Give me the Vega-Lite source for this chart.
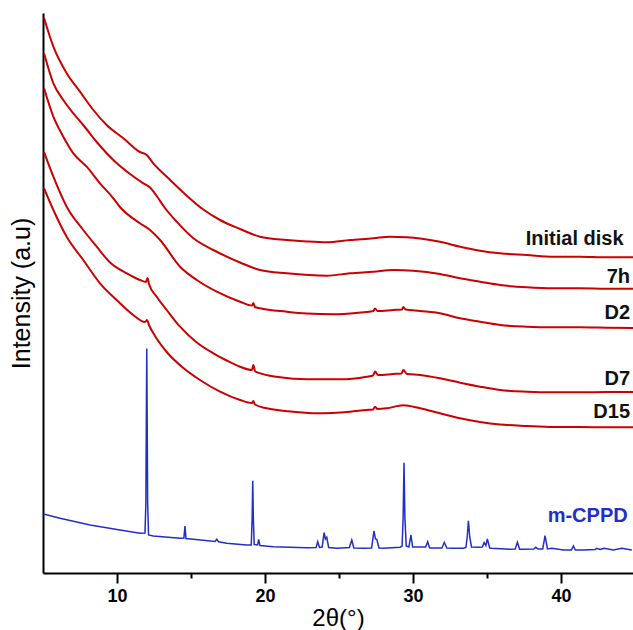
{
  "$schema": "https://vega.github.io/schema/vega-lite/v6.json",
  "autosize": {"type": "none"},
  "padding": {"left": 43, "top": 13, "right": 0, "bottom": 57},
  "width": 590,
  "height": 560,
  "config": {
    "view": {"stroke": null},
    "font": "Liberation Sans"
  },
  "datasets": {
    "curves": [
      {"sample": "Initial disk", "two_theta": 5.07, "intensity": 555},
      {"sample": "Initial disk", "two_theta": 5.70, "intensity": 526.3},
      {"sample": "Initial disk", "two_theta": 6.60, "intensity": 499.7},
      {"sample": "Initial disk", "two_theta": 7.50, "intensity": 481.3},
      {"sample": "Initial disk", "two_theta": 8.40, "intensity": 463},
      {"sample": "Initial disk", "two_theta": 9.30, "intensity": 448},
      {"sample": "Initial disk", "two_theta": 10.43, "intensity": 434.7},
      {"sample": "Initial disk", "two_theta": 11.55, "intensity": 421},
      {"sample": "Initial disk", "two_theta": 12.01, "intensity": 418},
      {"sample": "Initial disk", "two_theta": 12.45, "intensity": 409.7},
      {"sample": "Initial disk", "two_theta": 13.36, "intensity": 396.3},
      {"sample": "Initial disk", "two_theta": 14.48, "intensity": 380.5},
      {"sample": "Initial disk", "two_theta": 15.83, "intensity": 363.5},
      {"sample": "Initial disk", "two_theta": 16.96, "intensity": 353},
      {"sample": "Initial disk", "two_theta": 18.31, "intensity": 344},
      {"sample": "Initial disk", "two_theta": 19.66, "intensity": 336.3},
      {"sample": "Initial disk", "two_theta": 21.47, "intensity": 333},
      {"sample": "Initial disk", "two_theta": 22.82, "intensity": 331.5},
      {"sample": "Initial disk", "two_theta": 24.17, "intensity": 330.7},
      {"sample": "Initial disk", "two_theta": 25.74, "intensity": 333},
      {"sample": "Initial disk", "two_theta": 27.32, "intensity": 334.7},
      {"sample": "Initial disk", "two_theta": 28.45, "intensity": 336.3},
      {"sample": "Initial disk", "two_theta": 29.57, "intensity": 335.7},
      {"sample": "Initial disk", "two_theta": 30.47, "intensity": 334.5},
      {"sample": "Initial disk", "two_theta": 31.82, "intensity": 331.3},
      {"sample": "Initial disk", "two_theta": 33.18, "intensity": 326.3},
      {"sample": "Initial disk", "two_theta": 34.53, "intensity": 322.3},
      {"sample": "Initial disk", "two_theta": 35.88, "intensity": 319.7},
      {"sample": "Initial disk", "two_theta": 37.68, "intensity": 318},
      {"sample": "Initial disk", "two_theta": 39.48, "intensity": 316.3},
      {"sample": "Initial disk", "two_theta": 41.28, "intensity": 316.3},
      {"sample": "Initial disk", "two_theta": 43.09, "intensity": 315.7},
      {"sample": "Initial disk", "two_theta": 44.86, "intensity": 315.7},

      {"sample": "7h", "two_theta": 5.07, "intensity": 519.7},
      {"sample": "7h", "two_theta": 5.70, "intensity": 489.7},
      {"sample": "7h", "two_theta": 6.37, "intensity": 473},
      {"sample": "7h", "two_theta": 7.05, "intensity": 459.7},
      {"sample": "7h", "two_theta": 7.72, "intensity": 448},
      {"sample": "7h", "two_theta": 8.63, "intensity": 431},
      {"sample": "7h", "two_theta": 9.75, "intensity": 413},
      {"sample": "7h", "two_theta": 10.88, "intensity": 399},
      {"sample": "7h", "two_theta": 11.78, "intensity": 389.7},
      {"sample": "7h", "two_theta": 12.23, "intensity": 385.5},
      {"sample": "7h", "two_theta": 12.68, "intensity": 377},
      {"sample": "7h", "two_theta": 13.24, "intensity": 365},
      {"sample": "7h", "two_theta": 14.03, "intensity": 351.3},
      {"sample": "7h", "two_theta": 15.16, "intensity": 334.7},
      {"sample": "7h", "two_theta": 16.51, "intensity": 323},
      {"sample": "7h", "two_theta": 18.31, "intensity": 310.5},
      {"sample": "7h", "two_theta": 19.66, "intensity": 303},
      {"sample": "7h", "two_theta": 21.47, "intensity": 299.7},
      {"sample": "7h", "two_theta": 24.17, "intensity": 297.3},
      {"sample": "7h", "two_theta": 25.74, "intensity": 299.7},
      {"sample": "7h", "two_theta": 27.32, "intensity": 301.3},
      {"sample": "7h", "two_theta": 28.67, "intensity": 303},
      {"sample": "7h", "two_theta": 30.02, "intensity": 302.3},
      {"sample": "7h", "two_theta": 31.82, "intensity": 299},
      {"sample": "7h", "two_theta": 33.18, "intensity": 294.7},
      {"sample": "7h", "two_theta": 34.53, "intensity": 291.3},
      {"sample": "7h", "two_theta": 35.88, "intensity": 288},
      {"sample": "7h", "two_theta": 37.68, "intensity": 285.7},
      {"sample": "7h", "two_theta": 39.48, "intensity": 284.7},
      {"sample": "7h", "two_theta": 41.28, "intensity": 284.7},
      {"sample": "7h", "two_theta": 43.09, "intensity": 284.3},
      {"sample": "7h", "two_theta": 44.86, "intensity": 284.3},

      {"sample": "D2", "two_theta": 5.07, "intensity": 484.7},
      {"sample": "D2", "two_theta": 5.70, "intensity": 456.3},
      {"sample": "D2", "two_theta": 6.37, "intensity": 436.3},
      {"sample": "D2", "two_theta": 7.05, "intensity": 419.7},
      {"sample": "D2", "two_theta": 7.95, "intensity": 406.3},
      {"sample": "D2", "two_theta": 8.85, "intensity": 389.7},
      {"sample": "D2", "two_theta": 9.75, "intensity": 374.7},
      {"sample": "D2", "two_theta": 10.20, "intensity": 366},
      {"sample": "D2", "two_theta": 11.55, "intensity": 349.7},
      {"sample": "D2", "two_theta": 12.23, "intensity": 343},
      {"sample": "D2", "two_theta": 12.91, "intensity": 333},
      {"sample": "D2", "two_theta": 14.26, "intensity": 306.3},
      {"sample": "D2", "two_theta": 15.39, "intensity": 293},
      {"sample": "D2", "two_theta": 16.74, "intensity": 281.3},
      {"sample": "D2", "two_theta": 18.31, "intensity": 271.3},
      {"sample": "D2", "two_theta": 19.12, "intensity": 267.5},
      {"sample": "D2", "two_theta": 19.21, "intensity": 270},
      {"sample": "D2", "two_theta": 19.32, "intensity": 266},
      {"sample": "D2", "two_theta": 19.66, "intensity": 264.7},
      {"sample": "D2", "two_theta": 21.47, "intensity": 261.3},
      {"sample": "D2", "two_theta": 22.82, "intensity": 259.5},
      {"sample": "D2", "two_theta": 24.61, "intensity": 258.7},
      {"sample": "D2", "two_theta": 26.42, "intensity": 260.5},
      {"sample": "D2", "two_theta": 27.32, "intensity": 262},
      {"sample": "D2", "two_theta": 27.43, "intensity": 264.5},
      {"sample": "D2", "two_theta": 27.60, "intensity": 262},
      {"sample": "D2", "two_theta": 28.67, "intensity": 263},
      {"sample": "D2", "two_theta": 29.25, "intensity": 263.5},
      {"sample": "D2", "two_theta": 29.34, "intensity": 266},
      {"sample": "D2", "two_theta": 29.50, "intensity": 263.5},
      {"sample": "D2", "two_theta": 30.47, "intensity": 262},
      {"sample": "D2", "two_theta": 31.82, "intensity": 259.7},
      {"sample": "D2", "two_theta": 33.18, "intensity": 254.7},
      {"sample": "D2", "two_theta": 34.53, "intensity": 251.3},
      {"sample": "D2", "two_theta": 35.88, "intensity": 248},
      {"sample": "D2", "two_theta": 37.68, "intensity": 246.3},
      {"sample": "D2", "two_theta": 39.48, "intensity": 245.7},
      {"sample": "D2", "two_theta": 41.28, "intensity": 245.7},
      {"sample": "D2", "two_theta": 43.09, "intensity": 245.3},
      {"sample": "D2", "two_theta": 44.86, "intensity": 245},

      {"sample": "D7", "two_theta": 5.07, "intensity": 421},
      {"sample": "D7", "two_theta": 5.70, "intensity": 396.3},
      {"sample": "D7", "two_theta": 6.60, "intensity": 366.3},
      {"sample": "D7", "two_theta": 7.72, "intensity": 343},
      {"sample": "D7", "two_theta": 8.63, "intensity": 326.3},
      {"sample": "D7", "two_theta": 9.53, "intensity": 310.5},
      {"sample": "D7", "two_theta": 10.66, "intensity": 299.7},
      {"sample": "D7", "two_theta": 11.55, "intensity": 293},
      {"sample": "D7", "two_theta": 11.96, "intensity": 291},
      {"sample": "D7", "two_theta": 12.06, "intensity": 295},
      {"sample": "D7", "two_theta": 12.16, "intensity": 289},
      {"sample": "D7", "two_theta": 12.68, "intensity": 276.3},
      {"sample": "D7", "two_theta": 13.36, "intensity": 263},
      {"sample": "D7", "two_theta": 14.26, "intensity": 246.3},
      {"sample": "D7", "two_theta": 15.39, "intensity": 230.5},
      {"sample": "D7", "two_theta": 16.51, "intensity": 219.7},
      {"sample": "D7", "two_theta": 17.41, "intensity": 212.5},
      {"sample": "D7", "two_theta": 18.31, "intensity": 206.3},
      {"sample": "D7", "two_theta": 19.12, "intensity": 203},
      {"sample": "D7", "two_theta": 19.21, "intensity": 208},
      {"sample": "D7", "two_theta": 19.32, "intensity": 202},
      {"sample": "D7", "two_theta": 19.44, "intensity": 200.8},
      {"sample": "D7", "two_theta": 21.01, "intensity": 195.7},
      {"sample": "D7", "two_theta": 22.82, "intensity": 193.7},
      {"sample": "D7", "two_theta": 25.07, "intensity": 193.7},
      {"sample": "D7", "two_theta": 26.87, "intensity": 196.3},
      {"sample": "D7", "two_theta": 27.30, "intensity": 197.5},
      {"sample": "D7", "two_theta": 27.43, "intensity": 201.5},
      {"sample": "D7", "two_theta": 27.64, "intensity": 198},
      {"sample": "D7", "two_theta": 28.67, "intensity": 199},
      {"sample": "D7", "two_theta": 29.22, "intensity": 199.5},
      {"sample": "D7", "two_theta": 29.34, "intensity": 203},
      {"sample": "D7", "two_theta": 29.59, "intensity": 199},
      {"sample": "D7", "two_theta": 30.47, "intensity": 198},
      {"sample": "D7", "two_theta": 31.82, "intensity": 194.7},
      {"sample": "D7", "two_theta": 33.18, "intensity": 190.3},
      {"sample": "D7", "two_theta": 34.53, "intensity": 186.3},
      {"sample": "D7", "two_theta": 35.88, "intensity": 183},
      {"sample": "D7", "two_theta": 37.68, "intensity": 181.3},
      {"sample": "D7", "two_theta": 39.48, "intensity": 180.7},
      {"sample": "D7", "two_theta": 41.28, "intensity": 180.7},
      {"sample": "D7", "two_theta": 43.09, "intensity": 181},
      {"sample": "D7", "two_theta": 44.86, "intensity": 181},

      {"sample": "D15", "two_theta": 5.07, "intensity": 384.7},
      {"sample": "D15", "two_theta": 5.70, "intensity": 363},
      {"sample": "D15", "two_theta": 6.60, "intensity": 336.3},
      {"sample": "D15", "two_theta": 7.72, "intensity": 313},
      {"sample": "D15", "two_theta": 8.85, "intensity": 289.7},
      {"sample": "D15", "two_theta": 9.98, "intensity": 273},
      {"sample": "D15", "two_theta": 11.10, "intensity": 258},
      {"sample": "D15", "two_theta": 11.89, "intensity": 251},
      {"sample": "D15", "two_theta": 12.03, "intensity": 253},
      {"sample": "D15", "two_theta": 12.16, "intensity": 248},
      {"sample": "D15", "two_theta": 12.57, "intensity": 237},
      {"sample": "D15", "two_theta": 13.36, "intensity": 221},
      {"sample": "D15", "two_theta": 14.48, "intensity": 205},
      {"sample": "D15", "two_theta": 15.61, "intensity": 193},
      {"sample": "D15", "two_theta": 16.96, "intensity": 181.3},
      {"sample": "D15", "two_theta": 18.31, "intensity": 173},
      {"sample": "D15", "two_theta": 19.12, "intensity": 170},
      {"sample": "D15", "two_theta": 19.21, "intensity": 172},
      {"sample": "D15", "two_theta": 19.32, "intensity": 168.5},
      {"sample": "D15", "two_theta": 20.11, "intensity": 164.7},
      {"sample": "D15", "two_theta": 21.91, "intensity": 161.3},
      {"sample": "D15", "two_theta": 23.49, "intensity": 159.7},
      {"sample": "D15", "two_theta": 25.74, "intensity": 161.3},
      {"sample": "D15", "two_theta": 26.87, "intensity": 163},
      {"sample": "D15", "two_theta": 27.30, "intensity": 163.5},
      {"sample": "D15", "two_theta": 27.43, "intensity": 166.3},
      {"sample": "D15", "two_theta": 27.60, "intensity": 164},
      {"sample": "D15", "two_theta": 28.22, "intensity": 164.7},
      {"sample": "D15", "two_theta": 29.34, "intensity": 167.7},
      {"sample": "D15", "two_theta": 30.47, "intensity": 164.7},
      {"sample": "D15", "two_theta": 31.82, "intensity": 159.7},
      {"sample": "D15", "two_theta": 33.18, "intensity": 154.7},
      {"sample": "D15", "two_theta": 34.53, "intensity": 151},
      {"sample": "D15", "two_theta": 35.88, "intensity": 148.5},
      {"sample": "D15", "two_theta": 37.68, "intensity": 147},
      {"sample": "D15", "two_theta": 39.48, "intensity": 146},
      {"sample": "D15", "two_theta": 41.28, "intensity": 146},
      {"sample": "D15", "two_theta": 43.09, "intensity": 145.7},
      {"sample": "D15", "two_theta": 44.86, "intensity": 145.7},

      {"sample": "m-CPPD", "two_theta": 5.03, "intensity": 59},
      {"sample": "m-CPPD", "two_theta": 6.15, "intensity": 54.7},
      {"sample": "m-CPPD", "two_theta": 8.18, "intensity": 48},
      {"sample": "m-CPPD", "two_theta": 10.20, "intensity": 43},
      {"sample": "m-CPPD", "two_theta": 11.55, "intensity": 39.7},
      {"sample": "m-CPPD", "two_theta": 11.89, "intensity": 40},
      {"sample": "m-CPPD", "two_theta": 11.95, "intensity": 70},
      {"sample": "m-CPPD", "two_theta": 11.98, "intensity": 150},
      {"sample": "m-CPPD", "two_theta": 12.01, "intensity": 224.5},
      {"sample": "m-CPPD", "two_theta": 12.04, "intensity": 150},
      {"sample": "m-CPPD", "two_theta": 12.07, "intensity": 70},
      {"sample": "m-CPPD", "two_theta": 12.13, "intensity": 38},
      {"sample": "m-CPPD", "two_theta": 12.45, "intensity": 37},
      {"sample": "m-CPPD", "two_theta": 14.26, "intensity": 34.7},
      {"sample": "m-CPPD", "two_theta": 14.52, "intensity": 35},
      {"sample": "m-CPPD", "two_theta": 14.59, "intensity": 47},
      {"sample": "m-CPPD", "two_theta": 14.66, "intensity": 34.5},
      {"sample": "m-CPPD", "two_theta": 15.16, "intensity": 33.7},
      {"sample": "m-CPPD", "two_theta": 16.62, "intensity": 31.5},
      {"sample": "m-CPPD", "two_theta": 16.74, "intensity": 33.7},
      {"sample": "m-CPPD", "two_theta": 16.86, "intensity": 31.2},
      {"sample": "m-CPPD", "two_theta": 17.41, "intensity": 29.7},
      {"sample": "m-CPPD", "two_theta": 18.76, "intensity": 28},
      {"sample": "m-CPPD", "two_theta": 19.07, "intensity": 28},
      {"sample": "m-CPPD", "two_theta": 19.13, "intensity": 55},
      {"sample": "m-CPPD", "two_theta": 19.17, "intensity": 92.3},
      {"sample": "m-CPPD", "two_theta": 19.21, "intensity": 55},
      {"sample": "m-CPPD", "two_theta": 19.27, "intensity": 28.5},
      {"sample": "m-CPPD", "two_theta": 19.50, "intensity": 28},
      {"sample": "m-CPPD", "two_theta": 19.57, "intensity": 33.7},
      {"sample": "m-CPPD", "two_theta": 19.66, "intensity": 27.5},
      {"sample": "m-CPPD", "two_theta": 20.56, "intensity": 26.3},
      {"sample": "m-CPPD", "two_theta": 22.82, "intensity": 25.3},
      {"sample": "m-CPPD", "two_theta": 23.45, "intensity": 25.5},
      {"sample": "m-CPPD", "two_theta": 23.56, "intensity": 31.3},
      {"sample": "m-CPPD", "two_theta": 23.68, "intensity": 25.5},
      {"sample": "m-CPPD", "two_theta": 23.86, "intensity": 26},
      {"sample": "m-CPPD", "two_theta": 23.99, "intensity": 40.3},
      {"sample": "m-CPPD", "two_theta": 24.08, "intensity": 34},
      {"sample": "m-CPPD", "two_theta": 24.17, "intensity": 35.7},
      {"sample": "m-CPPD", "two_theta": 24.30, "intensity": 25.5},
      {"sample": "m-CPPD", "two_theta": 24.84, "intensity": 24.7},
      {"sample": "m-CPPD", "two_theta": 25.70, "intensity": 25.5},
      {"sample": "m-CPPD", "two_theta": 25.86, "intensity": 33},
      {"sample": "m-CPPD", "two_theta": 26.00, "intensity": 25},
      {"sample": "m-CPPD", "two_theta": 26.64, "intensity": 24.7},
      {"sample": "m-CPPD", "two_theta": 27.20, "intensity": 25},
      {"sample": "m-CPPD", "two_theta": 27.36, "intensity": 42},
      {"sample": "m-CPPD", "two_theta": 27.46, "intensity": 34},
      {"sample": "m-CPPD", "two_theta": 27.55, "intensity": 33.7},
      {"sample": "m-CPPD", "two_theta": 27.70, "intensity": 25},
      {"sample": "m-CPPD", "two_theta": 27.99, "intensity": 24.7},
      {"sample": "m-CPPD", "two_theta": 29.12, "intensity": 25.7},
      {"sample": "m-CPPD", "two_theta": 29.26, "intensity": 27},
      {"sample": "m-CPPD", "two_theta": 29.33, "intensity": 55},
      {"sample": "m-CPPD", "two_theta": 29.39, "intensity": 110.3},
      {"sample": "m-CPPD", "two_theta": 29.45, "intensity": 55},
      {"sample": "m-CPPD", "two_theta": 29.54, "intensity": 27},
      {"sample": "m-CPPD", "two_theta": 29.72, "intensity": 26},
      {"sample": "m-CPPD", "two_theta": 29.86, "intensity": 38},
      {"sample": "m-CPPD", "two_theta": 29.97, "intensity": 26},
      {"sample": "m-CPPD", "two_theta": 30.85, "intensity": 26},
      {"sample": "m-CPPD", "two_theta": 30.99, "intensity": 31.3},
      {"sample": "m-CPPD", "two_theta": 31.12, "intensity": 25},
      {"sample": "m-CPPD", "two_theta": 31.95, "intensity": 25},
      {"sample": "m-CPPD", "two_theta": 32.11, "intensity": 30.7},
      {"sample": "m-CPPD", "two_theta": 32.28, "intensity": 25},
      {"sample": "m-CPPD", "two_theta": 32.72, "intensity": 24.7},
      {"sample": "m-CPPD", "two_theta": 33.40, "intensity": 24.7},
      {"sample": "m-CPPD", "two_theta": 33.57, "intensity": 25.5},
      {"sample": "m-CPPD", "two_theta": 33.66, "intensity": 36},
      {"sample": "m-CPPD", "two_theta": 33.74, "intensity": 52.3},
      {"sample": "m-CPPD", "two_theta": 33.83, "intensity": 36},
      {"sample": "m-CPPD", "two_theta": 33.95, "intensity": 26},
      {"sample": "m-CPPD", "two_theta": 34.41, "intensity": 25.7},
      {"sample": "m-CPPD", "two_theta": 34.68, "intensity": 26},
      {"sample": "m-CPPD", "two_theta": 34.80, "intensity": 30.3},
      {"sample": "m-CPPD", "two_theta": 34.92, "intensity": 27.5},
      {"sample": "m-CPPD", "two_theta": 35.02, "intensity": 34},
      {"sample": "m-CPPD", "two_theta": 35.18, "intensity": 25},
      {"sample": "m-CPPD", "two_theta": 35.32, "intensity": 24.7},
      {"sample": "m-CPPD", "two_theta": 36.55, "intensity": 23.7},
      {"sample": "m-CPPD", "two_theta": 36.90, "intensity": 24},
      {"sample": "m-CPPD", "two_theta": 37.05, "intensity": 30.7},
      {"sample": "m-CPPD", "two_theta": 37.20, "intensity": 23.7},
      {"sample": "m-CPPD", "two_theta": 37.45, "intensity": 23.7},
      {"sample": "m-CPPD", "two_theta": 38.15, "intensity": 24},
      {"sample": "m-CPPD", "two_theta": 38.29, "intensity": 25.7},
      {"sample": "m-CPPD", "two_theta": 38.45, "intensity": 24},
      {"sample": "m-CPPD", "two_theta": 38.76, "intensity": 24},
      {"sample": "m-CPPD", "two_theta": 38.92, "intensity": 37.3},
      {"sample": "m-CPPD", "two_theta": 39.08, "intensity": 24},
      {"sample": "m-CPPD", "two_theta": 39.37, "intensity": 24.7},
      {"sample": "m-CPPD", "two_theta": 40.16, "intensity": 23},
      {"sample": "m-CPPD", "two_theta": 40.70, "intensity": 23},
      {"sample": "m-CPPD", "two_theta": 40.83, "intensity": 27},
      {"sample": "m-CPPD", "two_theta": 40.97, "intensity": 23},
      {"sample": "m-CPPD", "two_theta": 41.51, "intensity": 23},
      {"sample": "m-CPPD", "two_theta": 42.30, "intensity": 23.5},
      {"sample": "m-CPPD", "two_theta": 42.41, "intensity": 24.7},
      {"sample": "m-CPPD", "two_theta": 42.64, "intensity": 23.5},
      {"sample": "m-CPPD", "two_theta": 42.91, "intensity": 24.7},
      {"sample": "m-CPPD", "two_theta": 43.53, "intensity": 23},
      {"sample": "m-CPPD", "two_theta": 44.10, "intensity": 24.7},
      {"sample": "m-CPPD", "two_theta": 44.78, "intensity": 23}
    ],
    "labels": [
      {"sample": "Initial disk", "two_theta": 44.22, "intensity": 334.3},
      {"sample": "7h", "two_theta": 44.66, "intensity": 296.3},
      {"sample": "D2", "two_theta": 44.66, "intensity": 260.5},
      {"sample": "D7", "two_theta": 44.66, "intensity": 194},
      {"sample": "D15", "two_theta": 44.66, "intensity": 161.3},
      {"sample": "m-CPPD", "two_theta": 44.5, "intensity": 57.5}
    ]
  },
  "encoding": {
    "x": {
      "field": "two_theta",
      "type": "quantitative",
      "scale": {"domain": [5, 44.86], "nice": false, "zero": false},
      "axis": {
        "title": "2θ(°)",
        "titleFont": "Liberation Sans",
        "titleFontSize": 24,
        "titleFontWeight": "normal",
        "titleColor": "black",
        "titlePadding": 1,
        "values": [10, 15, 20, 25, 30, 35, 40],
        "labelExpr": "datum.value % 10 === 0 ? datum.label : ''",
        "labelFont": "Liberation Sans",
        "labelFontSize": 18,
        "labelFontWeight": "bold",
        "labelColor": "black",
        "labelPadding": 4,
        "grid": false,
        "domainColor": "black",
        "domainWidth": 2,
        "tickColor": "black",
        "tickWidth": 2,
        "tickSize": {"condition": {"test": "datum.value % 10 === 0", "value": 10}, "value": 5}
      }
    },
    "y": {
      "field": "intensity",
      "type": "quantitative",
      "scale": {"domain": [0, 560], "nice": false},
      "axis": {
        "title": "Intensity (a.u)",
        "titleFont": "Liberation Sans",
        "titleFontSize": 25,
        "titleFontWeight": "normal",
        "titleColor": "black",
        "titlePadding": 9,
        "labels": false,
        "ticks": false,
        "grid": false,
        "domainColor": "black",
        "domainWidth": 2
      }
    }
  },
  "layer": [
    {
      "data": {"name": "curves"},
      "transform": [{"filter": "datum.sample !== 'm-CPPD'"}],
      "mark": {"type": "line", "color": "#cc0000", "strokeWidth": 2, "interpolate": "monotone", "clip": true},
      "encoding": {"detail": {"field": "sample"}}
    },
    {
      "data": {"name": "curves"},
      "transform": [{"filter": "datum.sample === 'm-CPPD'"}],
      "mark": {"type": "line", "color": "#1f2fc8", "strokeWidth": 1.5, "clip": true},
      "encoding": {}
    },
    {
      "data": {"name": "labels"},
      "mark": {"type": "text", "align": "right", "baseline": "middle", "font": "Liberation Sans", "fontSize": 20, "fontWeight": "bold"},
      "encoding": {
        "text": {"field": "sample"},
        "color": {
          "field": "sample",
          "type": "nominal",
          "scale": {
            "domain": ["Initial disk", "7h", "D2", "D7", "D15", "m-CPPD"],
            "range": ["#111111", "#111111", "#111111", "#111111", "#111111", "#1f2fc8"]
          },
          "legend": null
        }
      }
    },
    {
      "mark": {"type": "rule", "color": "black", "strokeWidth": 2},
      "encoding": {"x": {"value": 0}, "x2": {"value": 590}, "y": {"datum": 560}}
    }
  ]
}
